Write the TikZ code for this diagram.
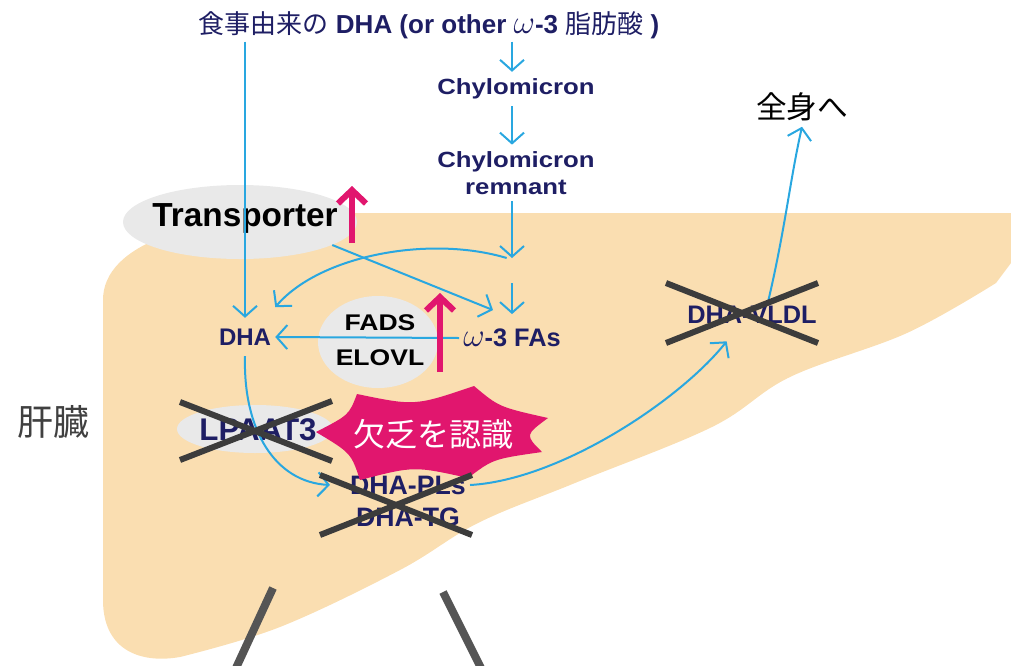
\documentclass[tikz,border=0pt]{standalone}
\usepackage{fontspec}
\setmainfont{Liberation Sans}
\newfontfamily\jp{Noto Sans CJK JP}
\newfontfamily\wide[FakeStretch=1.17]{Liberation Sans}
\usetikzlibrary{arrows.meta,shapes.geometric,calc}
\definecolor{liver}{RGB}{250,222,177}
\definecolor{ell}{RGB}{233,233,233}
\definecolor{navy}{RGB}{30,30,100}
\definecolor{flow}{RGB}{41,167,224}
\definecolor{mag}{RGB}{225,22,110}
\definecolor{xgray}{RGB}{60,60,60}
\definecolor{stemgray}{RGB}{85,85,85}
\definecolor{jgray}{RGB}{64,64,64}
\newcommand{\bigomega}[1]{{\fontsize{#1}{#1}\selectfont$\omega$}}
\begin{document}
\begin{tikzpicture}[x=0.75pt,y=-0.75pt,
  flowarr/.style={draw=flow, line width=1.5pt, -{Straight Barb[length=8pt,width=18pt]}},
  uparr/.style={draw=mag, line width=4.5pt, -{Straight Barb[length=10pt,width=21pt]}},
  crossline/.style={draw=xgray, line width=4.5pt},
  stemline/.style={draw=stemgray, line width=6pt},
  lab/.style={text=navy, font=\bfseries\fontsize{18}{20}\selectfont, inner xsep=3pt, inner ysep=8pt},
  blob/.style={ellipse, fill=ell, draw=none, inner sep=0pt},
]
\useasboundingbox (0,0) rectangle (1011,665);
% liver
\fill[liver] (103,300) .. controls (103,245) and (190,214) .. (330,213) -- (1011,213) -- (1011,263)
  -- plot[smooth, tension=0.6] coordinates {(996,283) (907,333) (790,377) (712,427) (575,483) (478,523) (400,570) (280,627) (180,657)}
  .. controls (140,664) and (103,650) .. (103,600) -- cycle;
% grey ellipses
\node[blob, minimum width=175.5pt, minimum height=55.5pt] (trans) at (240,222) {};
\node[blob, minimum width=90pt, minimum height=69pt] (fadsbg) at (378,342) {};
\node[blob, minimum width=117pt, minimum height=36pt] (lpbg) at (255,429) {};
% texts
\node[text=navy, font=\fontsize{19.5}{22}\selectfont, inner sep=2pt] (top) at (429,25)
  {{\jp 食事由来の} \textbf{DHA (or other} \bigomega{25}\textbf{-3} {\jp 脂肪酸} \textbf{)}};
\node[lab, font=\wide\bfseries\fontsize{16.5}{18}\selectfont, inner ysep=5pt] (chy) at (516,89) {Chylomicron};
\node[lab, font=\wide\bfseries\fontsize{16.5}{20}\selectfont, align=center, inner ysep=5pt] (rem) at (516,173) {Chylomicron\\remnant};
\node[lab] (dha) at (245,337) {DHA};
\node[lab, font=\bfseries\fontsize{19}{21}\selectfont, inner ysep=11pt] (fa) at (512,338) {\bigomega{25}-3 FAs};
\node[font=\bfseries\fontsize{25}{28}\selectfont] (tr) at (245,218) {Transporter};
\node[font=\wide\bfseries\fontsize{17}{26}\selectfont, align=center] (fads) at (380,340) {FADS\\ELOVL};
\node[lab, font=\bfseries\fontsize{23.5}{25}\selectfont] (lp) at (258,430) {LPAAT3};
\node[lab, font=\bfseries\fontsize{20}{22}\selectfont, inner ysep=3pt] (pls) at (408,485) {DHA-PLs};
\node[lab, font=\bfseries\fontsize{20}{22}\selectfont, inner ysep=3pt] (tg) at (408,517) {DHA-TG};
\node[lab, font=\bfseries\fontsize{19}{21}\selectfont, inner ysep=3pt] (vldl) at (752,315) {DHA-VLDL};
\node[font=\jp\fontsize{23}{26}\selectfont, inner sep=4pt] (zen) at (802,107) {全身へ};
\node[text=jgray, font=\jp\fontsize{27}{30}\selectfont] (liv) at (53,422) {肝臓};
% flow arrows
\coordinate (c1) at (512,0);
\coordinate (j) at (512,258);
\coordinate (j2) at (512,283);
\draw[flowarr] (top.south -| dha.north) -- (dha.north);
\draw[flowarr] (top.south -| c1) -- (chy.north -| c1);
\draw[flowarr] (chy.south -| c1) -- (rem.north -| c1);
\draw[flowarr] (rem.south -| c1) -- (j);
\draw[flowarr] (j2) -- (fa.north -| c1);
\draw[flowarr] ([xshift=-4pt]j) .. controls (430,235) and (320,255) .. ([yshift=8pt]dha.north east);
\draw[flowarr] (trans.-14) -- ($(fa.north west)+(34,-4)$);
\draw[flowarr] (fa.west) -- (dha.east);
\draw[flowarr] (dha.south) .. controls (243,430) and (275,482) .. ([xshift=-12pt]pls.west);
\draw[flowarr] (pls.east) .. controls (560,480) and (680,400) .. ([xshift=-19pt,yshift=-10pt]vldl.south);
\draw[flowarr] ([xshift=12pt]vldl.north) .. controls (785,230) and (790,180) .. (zen.south);
% magenta up arrows
\coordinate (m1a) at (352,243); \coordinate (m1b) at (352,186);
\coordinate (m2a) at (440,372); \coordinate (m2b) at (440,293);
\draw[uparr] (m1a) -- (m1b);
\draw[uparr] (m2a) -- (m2b);
% burst
\fill[mag] (316,432) .. controls (349,415) .. (357,394) .. controls (415,406) .. (474,386)
  .. controls (499,407) .. (548,418) .. controls (525,435) .. (542,452)
  .. controls (493,459) .. (468,478) .. controls (414,466) .. (360,480)
  .. controls (351,453) .. (316,432) -- cycle;
\node[text=white, font=\jp\fontsize{24}{26}\selectfont] (def) at (433,434) {欠乏を認識};
% crosses
\draw[crossline] (180,402) -- (332,461);
\draw[crossline] (180,460) -- (332,401);
\draw[crossline] (320,475) -- (472,535);
\draw[crossline] (320,535) -- (472,475);
\draw[crossline] (666,283) -- (818,343);
\draw[crossline] (666,343) -- (818,283);
% stems
\draw[stemline] (273,588) -- (236,668);
\draw[stemline] (443,592) -- (481,668);
\end{tikzpicture}
\end{document}
